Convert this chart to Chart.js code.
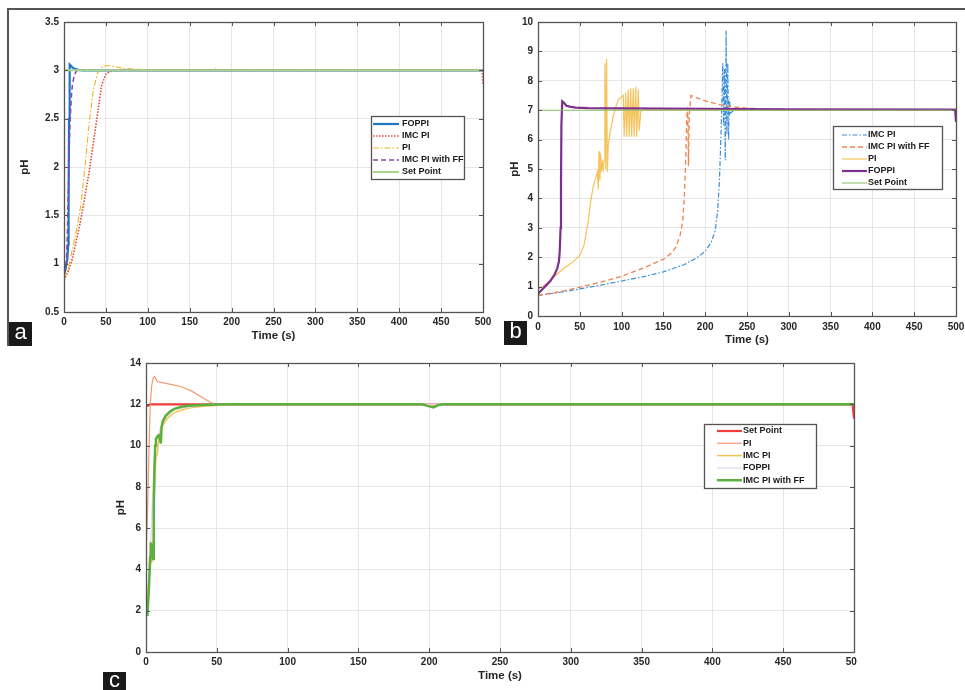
<!DOCTYPE html>
<html>
<head>
<meta charset="utf-8">
<script src="https://cdn.jsdelivr.net/npm/chart.js@4.4.0/dist/chart.umd.min.js"></script>
<style>
body { margin: 0; width: 965px; height: 690px; overflow: hidden; background: #fff; position: relative; font-family: "Liberation Sans", Arial, sans-serif; }
.pane { position: absolute; }
.tag { position: absolute; width: 23px; height: 24px; background: #1a1a1a; color: #fff; font-size: 22px; line-height: 19px; text-align: center; }
.rule { position: absolute; background: #555; }
</style>
</head>
<body>
<div class="rule" style="left:8px;top:8px;width:957px;height:1.5px"></div>
<div class="rule" style="left:7px;top:8px;width:1.5px;height:338px"></div>

<div class="pane" style="left:14px;top:10px;width:489px;height:338px"><canvas id="ca"></canvas></div>
<div class="pane" style="left:488px;top:10px;width:488px;height:342px"><canvas id="cb"></canvas></div>
<div class="pane" style="left:96px;top:350px;width:761px;height:340px;overflow:hidden">
  <div style="position:relative;width:778px;height:338px"><canvas id="cc"></canvas></div>
</div>

<div class="tag" style="left:9px;top:322px">a</div>
<div class="tag" style="left:504px;top:321px">b</div>
<div class="tag" style="left:103px;top:672px;height:18px;line-height:16px">c</div>

<script>
// (a) pH 3 set point
const aFoT = [0, 2, 4, 5, 5.5, 6, 6.5, 7, 8, 10, 13, 17, 22, 30, 500];
const aFoV = [0.88, 0.95, 1.05, 1.2, 1.6, 2.5, 3.0, 3.06, 3.05, 3.03, 3.015, 3.005, 3.0, 3.0, 3.0];
const aImcT = [0, 5, 10, 15, 20, 25, 30, 35, 40, 45, 50, 55, 60, 70, 499, 500];
const aImcV = [0.83, 0.92, 1.05, 1.25, 1.45, 1.7, 1.95, 2.25, 2.55, 2.85, 2.96, 2.99, 3.0, 3.0, 3.0, 2.85];
const aPiT = [0, 5, 10, 15, 20, 25, 30, 35, 40, 45, 50, 60, 70, 90, 120, 177, 180, 183, 500];
const aPiV = [0.85, 0.95, 1.15, 1.35, 1.6, 2.0, 2.45, 2.8, 2.97, 3.03, 3.05, 3.04, 3.02, 3.01, 3.0, 3.0, 3.02, 3.0, 3.0];
const aFfT = [0, 2, 3, 4, 5, 6, 7, 8, 9, 10, 12, 14, 16, 20, 500];
const aFfV = [0.9, 0.95, 1.05, 1.3, 1.7, 2.1, 2.4, 2.6, 2.75, 2.85, 2.94, 2.98, 3.0, 3.0, 3.0];
const aSpT = [0, 500];
const aSpV = [3, 3];

// (b) pH 7 set point
const bImcT = [0, 25, 50, 75, 100, 125, 150, 175, 190, 200, 207, 212, 215, 217, 218, 219, 220, 221, 222, 223, 224, 225, 226, 227, 228, 229, 230, 235, 500];
const bImcV = [0.7, 0.8, 0.92, 1.05, 1.19, 1.33, 1.5, 1.75, 1.98, 2.2, 2.5, 2.9, 3.6, 4.6, 5.4, 6.3, 7.3, 8.6, 6.5, 8.4, 5.3, 9.7, 6.2, 8.6, 6.0, 7.4, 6.9, 7.0, 7.0];
const bFfT = [0, 25, 50, 75, 100, 125, 150, 160, 165, 170, 173, 175, 177, 178, 179, 180, 181, 183, 190, 200, 215, 230, 250, 275, 300, 500];
const bFfV = [0.7, 0.82, 0.98, 1.15, 1.35, 1.62, 1.93, 2.15, 2.35, 2.75, 3.2, 4.0, 5.6, 6.8, 7.1, 5.1, 6.9, 7.5, 7.42, 7.32, 7.2, 7.12, 7.07, 7.04, 7.02, 7.0];
const bPiT = [0, 10, 20, 30, 40, 50, 55, 60, 63, 66, 69, 71, 72, 73, 74, 75, 76, 77, 78, 79, 80, 81, 82, 83, 84, 86, 88, 90, 93, 96, 100, 102, 103, 105, 106, 108, 109, 111, 112, 114, 115, 117, 118, 120, 121, 123, 125, 150, 500];
const bPiV = [0.9, 1.1, 1.35, 1.6, 1.8, 2.05, 2.4, 3.2, 3.9, 4.4, 4.7, 4.9, 4.3, 5.6, 4.6, 5.5, 4.9, 5.2, 5.0, 5.3, 8.6, 5.0, 8.75, 4.9, 5.8, 6.2, 6.5, 6.8, 7.1, 7.35, 7.45, 7.5, 6.1, 7.6, 6.1, 7.7, 6.1, 7.75, 6.1, 7.75, 6.1, 7.8, 6.1, 7.7, 6.3, 6.95, 7.0, 7.0, 7.0];
const bFoT = [0, 5, 10, 15, 20, 23, 25, 26, 27, 27.5, 28, 29, 31, 34, 38, 45, 60, 100, 200, 300, 499, 500];
const bFoV = [0.75, 0.9, 1.05, 1.2, 1.42, 1.62, 1.85, 2.2, 3.0, 4.5, 6.5, 7.3, 7.25, 7.15, 7.12, 7.09, 7.07, 7.06, 7.05, 7.03, 7.02, 6.6];
const bSpT = [0, 500];
const bSpV = [7, 7];

// (c) pH 12 set point
const cSpT = [0, 2, 3, 499, 500];
const cSpV = [11.9, 11.95, 12, 12, 11.3];
const cPiT = [0, 1, 2, 3, 4, 5, 6, 8, 15, 25, 32, 38, 43, 47, 52, 60, 500];
const cPiV = [4.7, 6.5, 9.5, 12.0, 12.9, 13.25, 13.35, 13.1, 13.0, 12.85, 12.65, 12.4, 12.2, 12.05, 12.0, 12.0, 12.0];
const cImcT = [0, 1, 2, 3, 4, 5, 6, 7, 8, 9, 10, 12, 15, 20, 30, 40, 55, 70, 200, 203, 206, 500];
const cImcV = [1.9, 2.2, 3.5, 5.4, 4.3, 5.0, 8.0, 9.4, 9.6, 10.3, 10.6, 11.0, 11.3, 11.6, 11.82, 11.9, 11.97, 12.0, 12.0, 11.9, 12.0, 12.0];
const cFoT = [0, 3, 6, 8, 12, 20, 40, 60, 500];
const cFoV = [1.8, 4.8, 9.5, 10.4, 11.2, 11.75, 11.96, 12.0, 12.0];
const cFfT = [0, 1, 2, 3, 3.5, 4, 4.5, 5, 5.5, 6, 6.5, 7, 8, 9, 10, 10.5, 11, 12, 14, 17, 20, 25, 30, 40, 50, 60, 195, 200, 203, 206, 210, 500];
const cFfV = [1.8, 1.8, 3.0, 4.6, 5.3, 5.1, 4.6, 4.5, 7.0, 9.0, 10.0, 10.3, 10.45, 10.5, 10.3, 10.1, 10.9, 11.2, 11.45, 11.65, 11.78, 11.88, 11.93, 11.97, 11.99, 12.0, 12.0, 11.9, 11.85, 11.95, 12.0, 12.0];

const pts = (t, v) => t.map((x, i) => ({ x: x, y: v[i] }));

const tickFont = { family: '"Liberation Sans", Arial, sans-serif', size: 10, weight: 'bold' };
const titleFont = { family: '"Liberation Sans", Arial, sans-serif', size: 11.5, weight: 'bold' };

// matlab style box with inward ticks
const axisBox = {
    id: 'axisBox',
    afterDatasetsDraw(chart) {
        const ctx = chart.ctx, ca = chart.chartArea, sx = chart.scales.x, sy = chart.scales.y;
        ctx.save();
        ctx.strokeStyle = '#555';
        ctx.lineWidth = 1;
        ctx.beginPath();
        sx.ticks.forEach(t => {
            const p = Math.round(sx.getPixelForValue(t.value)) + 0.5;
            ctx.moveTo(p, ca.top); ctx.lineTo(p, ca.top + 4);
            ctx.moveTo(p, ca.bottom); ctx.lineTo(p, ca.bottom - 4);
        });
        sy.ticks.forEach(t => {
            const p = Math.round(sy.getPixelForValue(t.value)) + 0.5;
            ctx.moveTo(ca.left, p); ctx.lineTo(ca.left + 4, p);
            ctx.moveTo(ca.right, p); ctx.lineTo(ca.right - 4, p);
        });
        ctx.stroke();
        ctx.lineWidth = 1.3;
        ctx.strokeRect(Math.round(ca.left) + 0.5, Math.round(ca.top) + 0.5, Math.round(ca.width), Math.round(ca.height));
        ctx.restore();
    }
};

const legendBox = {
    id: 'legendBox',
    afterDraw(chart, args, o) {
        const ctx = chart.ctx, ca = chart.chartArea;
        const x0 = Math.round(ca.left + o.x), y0 = Math.round(ca.top + o.y);
        ctx.save();
        ctx.fillStyle = '#fff';
        ctx.fillRect(x0, y0, o.w, o.h);
        ctx.strokeStyle = '#555';
        ctx.lineWidth = 1.3;
        ctx.strokeRect(x0 + 0.5, y0 + 0.5, o.w, o.h);
        ctx.font = 'bold 9px "Liberation Sans", Arial, sans-serif';
        ctx.textBaseline = 'middle';
        chart.data.datasets.forEach((d, i) => {
            const y = y0 + o.first + i * o.gap;
            ctx.beginPath();
            ctx.strokeStyle = d.borderColor;
            ctx.lineWidth = d.borderWidth;
            ctx.setLineDash(d.borderDash || []);
            ctx.moveTo(x0 + o.l0, y);
            ctx.lineTo(x0 + o.l1, y);
            ctx.stroke();
            ctx.setLineDash([]);
            ctx.fillStyle = '#1a1a1a';
            ctx.fillText(d.label, x0 + o.tx, y);
        });
        ctx.restore();
    }
};

function panel(id, series, yMin, yMax, yStep, lay, leg) {
    const datasets = series.map((s, i) => ({
        label: s.label,
        data: pts(s.t, s.v),
        borderColor: s.color,
        borderWidth: s.w,
        borderDash: s.dash || [],
        pointRadius: 0,
        tension: 0,
        fill: false,
        order: series.length - i
    }));
    return new Chart(document.getElementById(id), {
        type: 'line',
        data: { datasets: datasets },
        plugins: [axisBox, legendBox],
        options: {
            responsive: true,
            maintainAspectRatio: false,
            animation: false,
            layout: { padding: lay.pad },
            plugins: {
                legend: { display: false },
                tooltip: { enabled: false },
                legendBox: leg
            },
            scales: {
                x: {
                    type: 'linear', min: 0, max: 500,
                    ticks: { stepSize: 50, padding: lay.xTickPad, color: '#262626', font: tickFont, maxRotation: 0, autoSkip: false },
                    grid: { color: '#e6e6e6', drawTicks: false },
                    border: { display: false },
                    title: { display: true, text: 'Time (s)', color: '#262626', font: titleFont, padding: { top: 0, bottom: lay.xTitlePad } },
                    afterFit: s => { s.height = 36; }
                },
                y: {
                    min: yMin, max: yMax,
                    ticks: { stepSize: yStep, padding: 5, color: '#262626', font: tickFont, callback: v => String(+v.toFixed(2)) },
                    grid: { color: '#e6e6e6', drawTicks: false },
                    border: { display: false },
                    title: { display: true, text: 'pH', color: '#262626', font: titleFont, padding: { top: lay.yTitlePad, bottom: 0 } },
                    afterFit: s => { s.width = 50; }
                }
            }
        }
    });
}

panel('ca', [
    { label: 'FOPPI', t: aFoT, v: aFoV, color: '#1f77c4', w: 2.2 },
    { label: 'IMC PI', t: aImcT, v: aImcV, color: '#e8452c', w: 1.6, dash: [1.5, 1.5] },
    { label: 'PI', t: aPiT, v: aPiV, color: '#f0b429', w: 1.1, dash: [6, 2, 1.5, 2] },
    { label: 'IMC PI with FF', t: aFfT, v: aFfV, color: '#8a46a8', w: 1.5, dash: [5, 3] },
    { label: 'Set Point', t: aSpT, v: aSpV, color: '#a9d48e', w: 2 }
], 0.5, 3.5, 0.5,
    { pad: { top: 12, right: 20, bottom: 0, left: 0 }, xTickPad: 4, xTitlePad: 5, yTitlePad: 4 },
    { x: 307, y: 94, w: 93, h: 63, first: 8, gap: 12, l0: 2, l1: 28, tx: 31 });

panel('cb', [
    { label: 'IMC PI', t: bImcT, v: bImcV, color: '#3b8fd8', w: 1.2, dash: [5, 2, 1.5, 2] },
    { label: 'IMC PI with FF', t: bFfT, v: bFfV, color: '#f0824f', w: 1.3, dash: [5, 3] },
    { label: 'PI', t: bPiT, v: bPiV, color: '#f5c35a', w: 1.2 },
    { label: 'FOPPI', t: bFoT, v: bFoV, color: '#7e2f8e', w: 2.2 },
    { label: 'Set Point', t: bSpT, v: bSpV, color: '#8cc36a', w: 1.1 }
], 0, 10, 1,
    { pad: { top: 12, right: 20, bottom: 0, left: 0 }, xTickPad: 5, xTitlePad: 5, yTitlePad: 20 },
    { x: 295, y: 104, w: 109, h: 63, first: 9, gap: 12, l0: 9, l1: 34, tx: 35 });

panel('cc', [
    { label: 'Set Point', t: cSpT, v: cSpV, color: '#f03c3c', w: 2.2 },
    { label: 'PI', t: cPiT, v: cPiV, color: '#f59a6e', w: 1.2 },
    { label: 'IMC PI', t: cImcT, v: cImcV, color: '#f5c150', w: 1.5 },
    { label: 'FOPPI', t: cFoT, v: cFoV, color: '#e6dcee', w: 1.5 },
    { label: 'IMC PI with FF', t: cFfT, v: cFfV, color: '#5cb040', w: 2.5 }
], 0, 14, 2,
    { pad: { top: 13, right: 20, bottom: 0, left: 0 }, xTickPad: 4, xTitlePad: 5, yTitlePad: 18 },
    { x: 558, y: 61, w: 112, h: 64, first: 7, gap: 12.3, l0: 13, l1: 38, tx: 39 });
</script>
</body>
</html>
